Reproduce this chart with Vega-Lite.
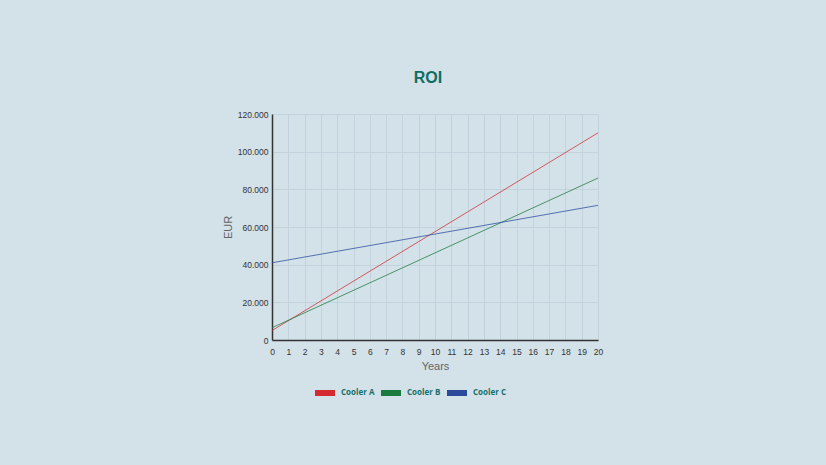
{
  "$schema": "https://vega.github.io/schema/vega-lite/v6.json",
  "width": 326,
  "height": 226,
  "autosize": {"type": "none"},
  "padding": {"left": 272, "top": 114, "right": 228, "bottom": 125},
  "background": "#d3e1e9",
  "title": {
    "text": "ROI",
    "anchor": "middle",
    "dx": -7,
    "offset": 24,
    "font": "Liberation Sans",
    "fontSize": 16,
    "fontWeight": "bold",
    "color": "#0f6e63"
  },
  "data": {
    "values": [
      {"year": 0, "eur": 5000, "cooler": "Cooler A"},
      {"year": 20, "eur": 110000, "cooler": "Cooler A"},
      {"year": 0, "eur": 6500, "cooler": "Cooler B"},
      {"year": 20, "eur": 86000, "cooler": "Cooler B"},
      {"year": 0, "eur": 41000, "cooler": "Cooler C"},
      {"year": 20, "eur": 71500, "cooler": "Cooler C"}
    ]
  },
  "mark": {"type": "line", "strokeWidth": 1, "opacity": 0.75},
  "encoding": {
    "x": {
      "field": "year",
      "type": "quantitative",
      "scale": {"domain": [0, 20], "nice": false},
      "axis": {
        "title": "Years",
        "values": [0,1,2,3,4,5,6,7,8,9,10,11,12,13,14,15,16,17,18,19,20],
        "labelFlush": false,
        "labelOverlap": false,
        "ticks": false,
        "labelPadding": 7,
        "titlePadding": 5
      }
    },
    "y": {
      "field": "eur",
      "type": "quantitative",
      "scale": {"domain": [0, 120000], "nice": false},
      "axis": {
        "title": "EUR",
        "values": [0, 20000, 40000, 60000, 80000, 100000, 120000],
        "labelExpr": "replace(format(datum.value, ','), ',', '.')",
        "ticks": false,
        "labelPadding": 4,
        "titlePadding": 4
      }
    },
    "color": {
      "field": "cooler",
      "type": "nominal",
      "scale": {"domain": ["Cooler A", "Cooler B", "Cooler C"], "range": ["#d42a32", "#1a7a3e", "#2b4a9c"]},
      "legend": {
        "title": null,
        "orient": "none",
        "direction": "horizontal",
        "legendX": 40,
        "legendY": 266,
        "symbolType": "stroke",
        "symbolSize": 400,
        "symbolStrokeWidth": 6,
        "symbolOpacity": 1,
        "labelOffset": 3,
        "columnPadding": -6,
        "labelFont": "Open Sans",
        "labelFontWeight": "bold",
        "labelFontSize": 8,
        "labelColor": "#17706a",
        "labelLimit": 100
      }
    }
  },
  "config": {
    "view": {"stroke": null},
    "axis": {
      "domainColor": "#333",
      "domainWidth": 1.5,
      "gridColor": "#c3d3de",
      "gridWidth": 1,
      "labelFont": "Liberation Sans",
      "labelFontSize": 8.5,
      "labelColor": "#333",
      "titleFont": "Liberation Sans",
      "titleFontSize": 11,
      "titleFontWeight": "normal",
      "titleColor": "#666"
    }
  }
}
